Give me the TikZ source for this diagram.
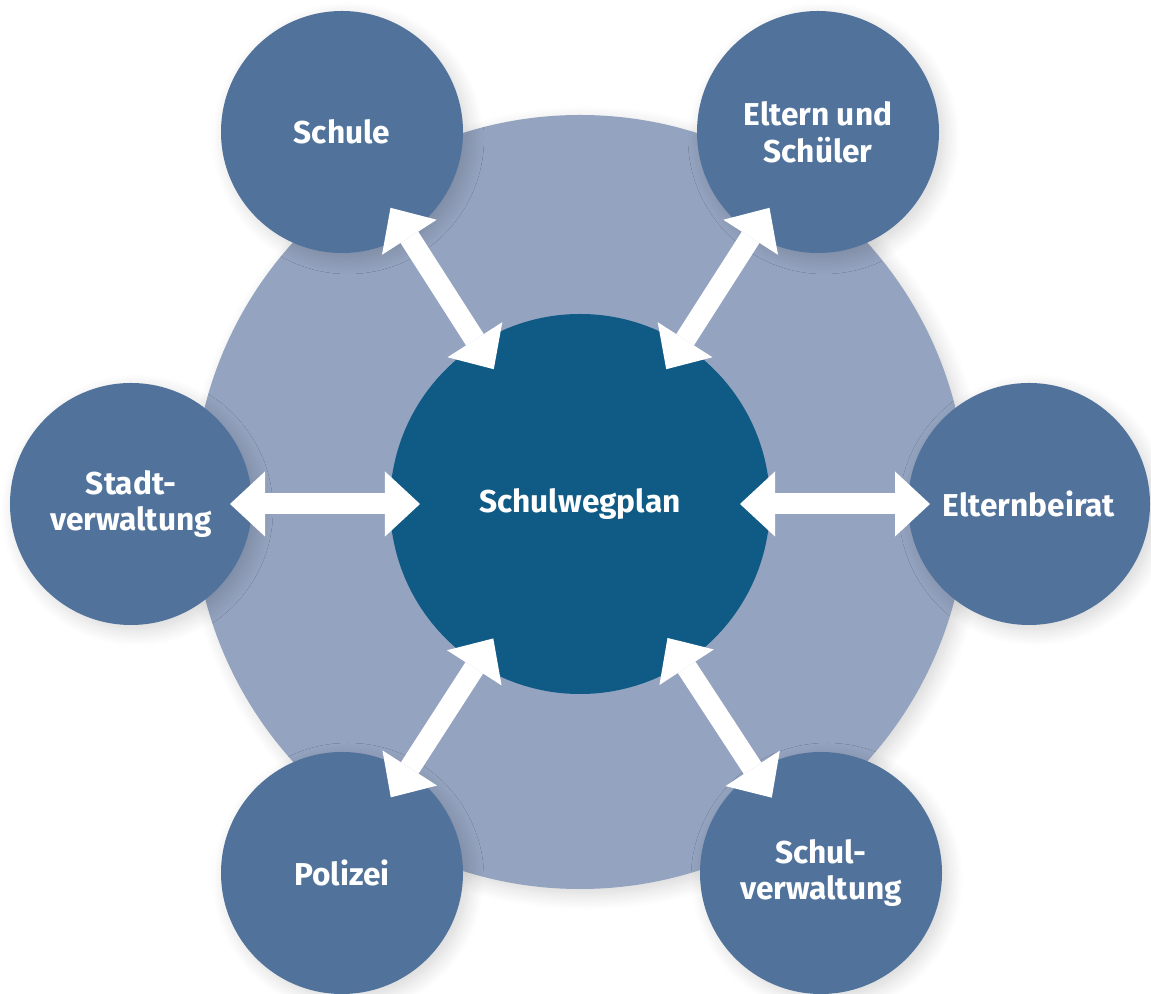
\documentclass[tikz,border=0pt]{standalone}
\usepackage{fontspec}
\setmainfont{Fira Sans}
\usepackage{tikz}
\usetikzlibrary{positioning,calc,arrows.meta,shadows.blur}
\usepackage{xcolor}
\definecolor{ringblue}{RGB}{148,163,191}
\definecolor{partnerblue}{RGB}{81,115,155}
\definecolor{planblue}{RGB}{16,91,134}

\begin{document}
\begin{tikzpicture}[x=0.2mm,y=0.2mm,
  softshadow/.style={blur shadow={shadow xshift=1.2mm,shadow yshift=-1.2mm,shadow blur radius=3mm,shadow blur steps=12,shadow opacity=16}},
  ring/.style={circle,fill=ringblue,minimum size=154.8mm,inner sep=0pt,softshadow},
  partner/.style={circle,fill=partnerblue,minimum size=48.4mm,inner sep=0pt,softshadow,
    text=white,align=center,font=\fontsize{18}{21}\selectfont\bfseries},
  plan/.style={circle,fill=planblue,minimum size=76mm,inner sep=0pt,
    text=white,font=\fontsize{18}{21}\selectfont\bfseries},
  biarrow/.style={white,line width=4.2mm,
    {Triangle[width=13mm,length=7mm,line width=0pt]}-{Triangle[width=13mm,length=7mm,line width=0pt]}}]
\useasboundingbox (0,0) rectangle (1151,994);
\node[ring] (ring) at (580,492) {};
\node[plan] (plan) at (580,490) {Schulwegplan};
\node[partner] (schule) at (342,862) {Schule};
\node[partner] (eltern) at (818,862) {Eltern und\\Schüler};
\node[partner] (stadt) at (131,490) {Stadt-\\verwaltung};
\node[partner] (beirat) at (1029,490) {Elternbeirat};
\node[partner] (polizei) at (342,121) {Polizei};
\node[partner] (schulverw) at (821,121) {Schul-\\verwaltung};
% Doppelpfeile zum Schulwegplan
\foreach \who/\far in {schule/18,eltern/18,stadt/19.8,beirat/19.8,polizei/18,schulverw/18}
  \draw[biarrow] ($(plan.center)!32mm!(\who.center)$) -- ($(\who.center)!\far mm!(plan.center)$);
\end{tikzpicture}
\end{document}
